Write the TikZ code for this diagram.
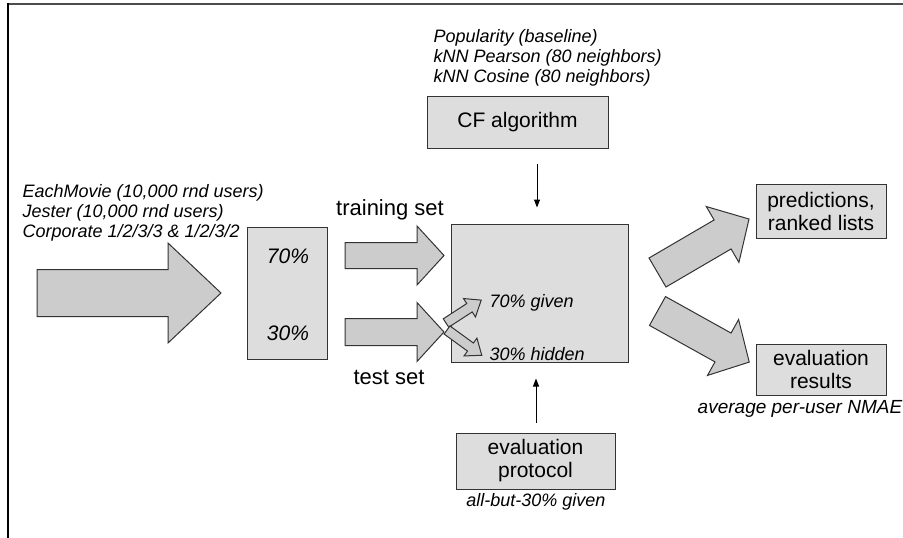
\documentclass[tikz,border=0pt]{standalone}
\usepackage{fontspec}
\setmainfont{Liberation Sans}
\usetikzlibrary{arrows.meta}

\definecolor{boxfill}{HTML}{DDDDDD}
\definecolor{arrowfill}{HTML}{CCCCCC}
\definecolor{edge}{HTML}{333333}

\tikzset{
  bigtext/.style={font=\fontsize{21}{23}\selectfont},
  labeltext/.style={font=\fontsize{22}{24}\selectfont},
  smalltext/.style={font=\fontsize{18}{20}\selectfont\itshape},
  stagebox/.style={draw=edge, fill=boxfill, line width=1pt, align=center, inner sep=0pt, bigtext},
  blockarrow/.style={draw=edge, fill=arrowfill, line width=1pt, line join=miter},
  link/.style={draw=black, line width=1pt, -{Triangle[length=8pt,width=6pt]}},
}

% block arrow: start point, angle, length, shaft width, head width, head length
\newcommand\fatarrow[6]{%
  \begin{scope}[shift={(#1)},rotate=#2]
    \pgfmathsetmacro\arrA{#4/2}%
    \pgfmathsetmacro\arrB{#5/2}%
    \pgfmathsetmacro\arrC{#3-#6}%
    \filldraw[blockarrow] (0,-\arrA) -- (\arrC,-\arrA) -- (\arrC,-\arrB) -- (#3,0)
      -- (\arrC,\arrB) -- (\arrC,\arrA) -- (0,\arrA) -- cycle;
  \end{scope}}

\begin{document}
\begin{tikzpicture}[x=1pt,y=-1pt]
\useasboundingbox (0,0) rectangle (903,538);

% frame lines
\draw[draw=black!70, line width=2pt] (8,3.5) -- (903,3.5);
\draw[draw=black, line width=1.5pt] (8,2.5) -- (8,538);

% boxes
\node[stagebox, minimum width=181, minimum height=52] (cf) at (517.5,122) {CF algorithm};
\node[stagebox, minimum width=177, minimum height=138] (main) at (540,293) {};
\node[stagebox, minimum width=80, minimum height=132] (split) at (287,293) {};
\node[font=\fontsize{21}{23}\selectfont\itshape] (p70) at (288,256) {70\%};
\node[font=\fontsize{21}{23}\selectfont\itshape] (p30) at (288,333) {30\%};
\node[stagebox, minimum width=130, minimum height=54] (pred) at (821,211) {predictions,\\ranked lists};
\node[stagebox, minimum width=130, minimum height=51] (evres) at (821,369.5) {evaluation\\results};
\node[stagebox, minimum width=159, minimum height=56] (evprot) at (535.5,461) {evaluation\\protocol};

% labels
\node[smalltext, align=left, anchor=west] (sources) at (19,213)
  {EachMovie (10,000 rnd users)\\Jester (10,000 rnd users)\\Corporate 1/2/3/3 \& 1/2/3/2};
\node[smalltext, align=left, anchor=west] (algos) at (430,58)
  {Popularity (baseline)\\kNN Pearson (80 neighbors)\\kNN Cosine (80 neighbors)};
\node[labeltext] (train) at (390,210) {training set};
\node[labeltext] (test) at (389,377) {test set};
\node[smalltext, anchor=west] (given) at (486,303) {70\% given};
\node[smalltext, anchor=west] (hidden) at (486,354) {30\% hidden};
\node[smalltext, font=\fontsize{19}{21}\selectfont\itshape] (nmae) at (800,409) {average per-user NMAE};
\node[smalltext] (allbut) at (536,502) {all-but-30\% given};

% block arrows
\fatarrow{37,293}{0}{184}{47}{100}{53}
\fatarrow{345,255.5}{0}{99}{26}{59}{27}
\fatarrow{345,332}{0}{99}{27}{59}{27}
\fatarrow{446,323}{33}{42}{10}{22}{14}
\fatarrow{447,330}{-36}{43}{10}{22}{14}
\fatarrow{657.5,272.5}{30.3}{106}{33.6}{64.7}{30.6}
\fatarrow{657.5,311}{-29.1}{105}{33}{64}{30}

% thin connectors
\draw[link, shorten <=15pt, shorten >=16pt] ([xshift=-3pt]main.north |- cf.south) -- ([xshift=-3pt]main.north);
\draw[link, shorten <=10pt, shorten >=16pt] ([xshift=-4pt]main.south |- evprot.north) -- ([xshift=-4pt]main.south);
\end{tikzpicture}
\end{document}
